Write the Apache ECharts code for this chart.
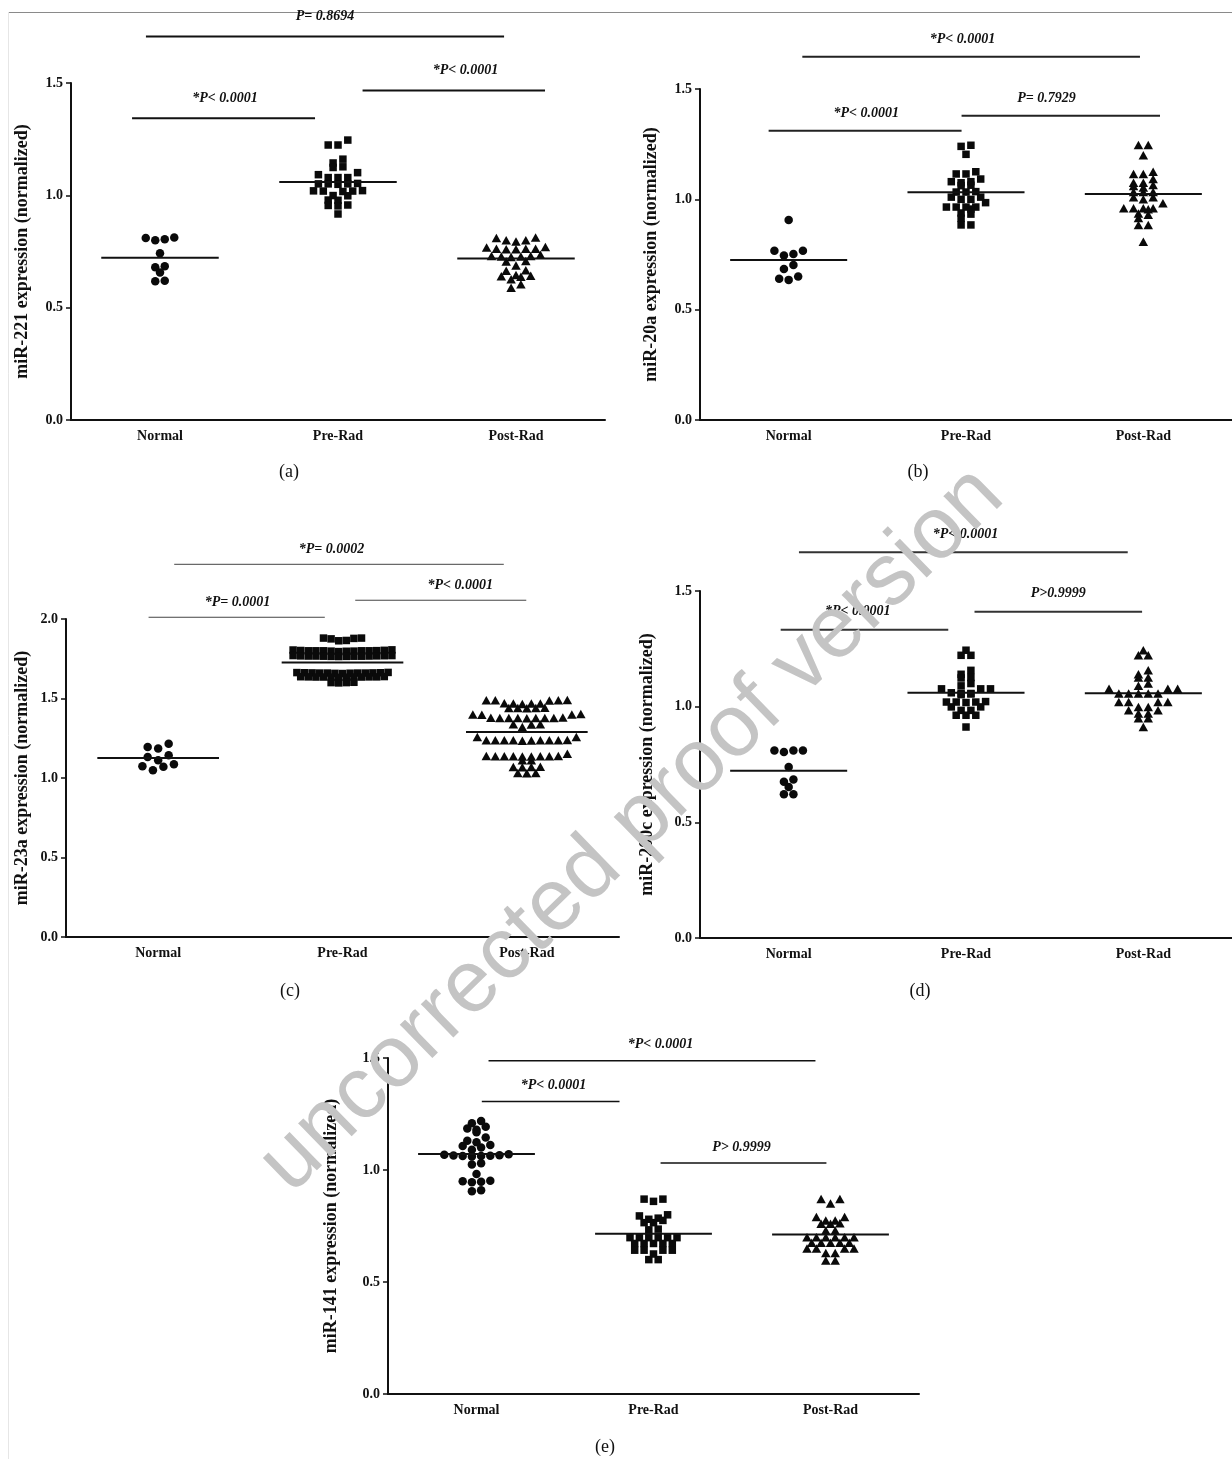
<!DOCTYPE html>
<html><head><meta charset="utf-8">
<script src="https://cdn.jsdelivr.net/npm/echarts@6/dist/echarts.min.js"></script>
<style>html,body{margin:0;padding:0;background:#fff}#c{width:1232px;height:1459px}</style>
</head><body><div id="c"></div>
<script>
// ---------- DATA ----------
const categories = ['Normal', 'Pre-Rad', 'Post-Rad'];
const yAxisMax = [1.5, 1.5, 2.0, 1.5, 1.5];
const yAxisStep = 0.5;
const yAxisNames = [
  'miR-221 expression (normalized)',
  'miR-20a expression (normalized)',
  'miR-23a expression (normalized)',
  'miR-200c expression (normalized)',
  'miR-141 expression (normalized)'
];
const panelTags = ['(a)', '(b)', '(c)', '(d)', '(e)'];

// (a) miR-221
const a_normal = [0.81, 0.805, 0.80, 0.812, 0.742, 0.684, 0.68, 0.656, 0.62, 0.618];
const a_pre = [1.246, 1.224, 1.224, 1.161, 1.144, 1.127, 1.124, 1.101, 1.092, 1.079, 1.079, 1.079,
  1.051, 1.053, 1.051, 1.049, 1.051, 1.019, 1.021, 1.019, 1.017, 1.02, 0.999, 0.998, 0.979, 0.978,
  0.957, 0.953, 0.955, 0.917];
const a_post = [0.81, 0.812, 0.80, 0.80, 0.795, 0.77, 0.768, 0.762, 0.762, 0.76, 0.76, 0.762,
  0.73, 0.728, 0.73, 0.725, 0.728, 0.735, 0.706, 0.708, 0.688, 0.664, 0.666, 0.64, 0.642, 0.645,
  0.638, 0.626, 0.604, 0.589];
// (b) miR-20a
const b_normal = [0.906, 0.767, 0.767, 0.752, 0.745, 0.702, 0.684, 0.65, 0.64, 0.635];
const b_pre = [1.245, 1.24, 1.204, 1.125, 1.115, 1.115, 1.092, 1.08, 1.08, 1.075, 1.064, 1.062,
  1.033, 1.033, 1.035, 1.01, 1.01, 1.0, 1.0, 0.985, 0.965, 0.965, 0.965, 0.965, 0.956, 0.938,
  0.933, 0.914, 0.884, 0.884];
const b_post = [1.246, 1.246, 1.2, 1.125, 1.115, 1.115, 1.092, 1.075, 1.075, 1.06, 1.065, 1.054,
  1.033, 1.033, 1.033, 1.01, 1.0, 1.01, 0.982, 0.96, 0.96, 0.955, 0.96, 0.96, 0.936, 0.93, 0.915,
  0.884, 0.884, 0.808];
// (c) miR-23a
const c_normal = [1.216, 1.195, 1.185, 1.143, 1.132, 1.111, 1.086, 1.074, 1.071, 1.049];
const c_pre = [1.88, 1.878, 1.875, 1.88, 1.865, 1.863,
  1.80, 1.802, 1.798, 1.805, 1.80, 1.795, 1.80, 1.803, 1.797, 1.80, 1.806, 1.80, 1.798, 1.801,
  1.767, 1.77, 1.765, 1.768, 1.766, 1.77, 1.764, 1.767, 1.769, 1.766, 1.765, 1.768, 1.767, 1.766,
  1.66, 1.662, 1.658, 1.661, 1.66, 1.663, 1.657, 1.66, 1.662, 1.659, 1.661, 1.66, 1.664,
  1.635, 1.636, 1.634, 1.637, 1.635, 1.633, 1.636, 1.635, 1.634, 1.638, 1.635, 1.636,
  1.60, 1.60, 1.598, 1.602];
const c_post = [1.489, 1.489, 1.49, 1.488, 1.489, 1.468, 1.47, 1.466, 1.468, 1.468,
  1.44, 1.44, 1.442, 1.438, 1.44, 1.40, 1.40, 1.402, 1.398,
  1.378, 1.378, 1.38, 1.376, 1.378, 1.379, 1.377, 1.378, 1.378,
  1.338, 1.338, 1.336, 1.32, 1.258, 1.258,
  1.237, 1.237, 1.238, 1.236, 1.237, 1.237, 1.239, 1.235, 1.237, 1.237,
  1.153, 1.137, 1.137, 1.138, 1.136, 1.137, 1.137, 1.139, 1.135, 1.137,
  1.111, 1.111, 1.069, 1.069, 1.07, 1.068, 1.031, 1.031, 1.03];
// (d) miR-200c
const d_normal = [0.811, 0.811, 0.804, 0.811, 0.739, 0.685, 0.675, 0.653, 0.621, 0.621];
const d_pre = [1.244, 1.222, 1.222, 1.157, 1.14, 1.126, 1.124, 1.10, 1.09, 1.077, 1.077, 1.077,
  1.057, 1.057, 1.06, 1.055, 1.052, 1.02, 1.02, 1.022, 1.018, 1.02, 0.999, 0.999, 0.984, 0.984,
  0.963, 0.963, 0.963, 0.912];
const d_post = [1.244, 1.222, 1.222, 1.157, 1.14, 1.126, 1.126, 1.10, 1.09, 1.077, 1.077, 1.077,
  1.057, 1.057, 1.057, 1.057, 1.057, 1.02, 1.02, 1.02, 1.02, 0.999, 0.999, 0.984, 0.984,
  0.97, 0.97, 0.95, 0.95, 0.912];
// (e) miR-141
const e_normal = [1.219, 1.209, 1.193, 1.185, 1.18, 1.169, 1.145, 1.131, 1.124, 1.112, 1.107, 1.10,
  1.09, 1.07, 1.068, 1.066, 1.065, 1.064, 1.063, 1.062, 1.06, 1.03, 1.025, 0.982, 0.952, 0.95,
  0.948, 0.945, 0.91, 0.905];
const e_pre = [0.87, 0.87, 0.86, 0.80, 0.795, 0.785, 0.775, 0.78, 0.765, 0.765, 0.736, 0.733,
  0.698, 0.698, 0.698, 0.698, 0.698, 0.698, 0.672, 0.672, 0.672, 0.672, 0.672,
  0.642, 0.642, 0.642, 0.642, 0.625, 0.60, 0.60];
const e_post = [0.87, 0.87, 0.85, 0.79, 0.79, 0.775, 0.775, 0.76, 0.76, 0.762, 0.73, 0.73,
  0.70, 0.70, 0.70, 0.70, 0.70, 0.70, 0.675, 0.675, 0.675, 0.675, 0.675,
  0.65, 0.65, 0.65, 0.65, 0.63, 0.63, 0.596, 0.596];

// significance brackets: [from x, to x, y, label centre x] in axis units
const a_brackets = [[-0.079, 1.933, 1.707, 0.927], [-0.157, 0.871, 1.343, 0.365], [1.138, 2.163, 1.467, 1.716]];
const a_bracketLabels = ['P= 0.8694', '*P< 0.0001', '*P< 0.0001'];
const b_brackets = [[0.077, 1.981, 1.646, 0.98], [-0.113, 0.975, 1.311, 0.437], [0.975, 2.094, 1.379, 1.454]];
const b_bracketLabels = ['*P< 0.0001', '*P< 0.0001', 'P= 0.7929'];
const c_brackets = [[0.087, 1.875, 2.344, 0.94], [-0.052, 0.904, 2.011, 0.43], [1.069, 1.997, 2.118, 1.639]];
const c_bracketLabels = ['*P= 0.0002', '*P= 0.0001', '*P< 0.0001'];
const d_brackets = [[0.058, 1.912, 1.668, 0.997], [-0.045, 0.90, 1.332, 0.389], [1.048, 1.993, 1.41, 1.52]];
const d_bracketLabels = ['*P< 0.0001', '*P< 0.0001', 'P>0.9999'];
const e_brackets = [[0.068, 1.915, 1.488, 1.04], [0.03, 0.808, 1.306, 0.435], [1.04, 1.977, 1.031, 1.497]];
const e_bracketLabels = ['*P< 0.0001', '*P< 0.0001', 'P> 0.9999'];

const watermarkText = 'uncorrected proof version';

// ---------- LAYOUT / STYLE ----------
const panels = [
  {groups: [a_normal, a_pre, a_post], br: a_brackets, brl: a_bracketLabels,
   grid: {left: 71, top: 83, width: 534, height: 337}, nameGap: 40, brW: 2, brC: '#111', labOff: 20,
   tag: [289, 472], sp: [9.5, 9.8, 9.8], rowH: [5, 5, 5]},
  {groups: [b_normal, b_pre, b_post], br: b_brackets, brl: b_bracketLabels,
   grid: {left: 700, top: 89, width: 532, height: 331}, nameGap: 40, brW: 2, brC: '#222', labOff: 17,
   tag: [918, 472], sp: [9.5, 9.8, 9.8], rowH: [5, 5, 5]},
  {groups: [c_normal, c_pre, c_post], br: c_brackets, brl: c_bracketLabels,
   grid: {left: 66, top: 619, width: 553, height: 318}, nameGap: 35, brW: 1, brC: '#444', labOff: 15,
   tag: [290, 991], sp: [10.5, 7.6, 9], rowH: [6, 3, 5]},
  {groups: [d_normal, d_pre, d_post], br: d_brackets, brl: d_bracketLabels,
   grid: {left: 700, top: 591, width: 532, height: 347}, nameGap: 44, brW: 2, brC: '#333', labOff: 18,
   tag: [920, 991], sp: [9.5, 9.8, 9.8], rowH: [5, 5, 5]},
  {groups: [e_normal, e_pre, e_post], br: e_brackets, brl: e_bracketLabels,
   grid: {left: 388, top: 1058, width: 531, height: 336}, nameGap: 48, brW: 1.6, brC: '#111', labOff: 16,
   tag: [605, 1447], sp: [9.2, 9.4, 9.4], rowH: [5, 5, 5]}
];
const symbols = ['circle', 'rect', 'triangle'];
const symSizes = [8.5, 7.5, [9.5, 8.5]];
const serif = '"Liberation Serif", "Times New Roman", serif';

// row-based dot-plot layout (like Prism): bins close values into rows, spreads each row horizontally
function swarm(values, center, pxX, pxY, rowH, spacing) {
  const sorted = values.slice().sort((p, q) => q - p);
  const rows = [];
  let cur = null;
  for (const v of sorted) {
    if (cur && (cur[0] - v) * pxY < rowH) cur.push(v);
    else { cur = [v]; rows.push(cur); }
  }
  const pts = [];
  rows.forEach(r => {
    const n = r.length;
    const slots = [];
    for (let k = 0; k < n; k++) slots.push(k - (n - 1) / 2);
    slots.sort((p, q) => Math.abs(p) - Math.abs(q) || p - q);
    const asc = r.slice().sort((p, q) => p - q);
    asc.forEach((v, k) => pts.push([center + slots[k] * spacing / pxX, v]));
  });
  return pts;
}
const mean = arr => arr.reduce((s, v) => s + v, 0) / arr.length;

const grids = [], xAxes = [], yAxes = [], series = [];
const axisFont = {fontFamily: serif, fontWeight: 'bold', fontSize: 14, color: '#111'};

panels.forEach((p, i) => {
  grids.push(Object.assign({containLabel: false}, p.grid));
  xAxes.push({
    type: 'category', gridIndex: i, data: categories, boundaryGap: true, position: 'bottom',
    axisLine: {onZero: false, lineStyle: {color: '#111', width: 2}},
    axisTick: {alignWithLabel: true, length: 5, lineStyle: {color: '#111', width: 1.5}},
    axisLabel: Object.assign({margin: 9}, axisFont), splitLine: {show: false}
  });
  xAxes.push({type: 'value', gridIndex: i, min: -0.5, max: 2.5, show: false, splitLine: {show: false},
    axisLine: {onZero: false}});
  yAxes.push({
    type: 'value', gridIndex: i, min: 0, max: yAxisMax[i], interval: yAxisStep, position: 'left',
    name: yAxisNames[i], nameLocation: 'middle', nameGap: p.nameGap,
    nameTextStyle: {fontFamily: serif, fontWeight: 'bold', fontSize: 18, color: '#111'},
    axisLine: {show: true, onZero: false, lineStyle: {color: '#111', width: 2}},
    axisTick: {show: true, length: 5, lineStyle: {color: '#111', width: 1.5}},
    axisLabel: Object.assign({margin: 8, formatter: v => v.toFixed(1)}, axisFont),
    splitLine: {show: false}
  });
  const pxX = p.grid.width / 3, pxY = p.grid.height / yAxisMax[i];
  p.groups.forEach((vals, g) => {
    series.push({
      type: 'scatter', xAxisIndex: 2 * i + 1, yAxisIndex: i,
      symbol: symbols[g], symbolSize: symSizes[g],
      itemStyle: {color: '#0a0a0a', opacity: 1},
      data: swarm(vals, g, pxX, pxY, p.rowH[g], p.sp[g]),
      z: 3, animation: false, silent: true
    });
  });
  series.push({
    type: 'custom', xAxisIndex: 2 * i + 1, yAxisIndex: i, animation: false, silent: true, z: 4,
    data: p.groups.map((vals, g) => [g, mean(vals)]),
    renderItem: (params, api) => {
      const x = api.value(0), y = api.value(1);
      const p1 = api.coord([x - 0.33, y]), p2 = api.coord([x + 0.33, y]);
      return {type: 'line', shape: {x1: p1[0], y1: p1[1], x2: p2[0], y2: p2[1]},
        style: {stroke: '#111', lineWidth: 2}};
    }
  });
  series.push({
    type: 'custom', xAxisIndex: 2 * i + 1, yAxisIndex: i, animation: false, silent: true, z: 4, clip: false,
    data: p.br,
    renderItem: (params, api) => {
      const x1 = api.value(0), x2 = api.value(1), y = api.value(2), lx = api.value(3);
      const p1 = api.coord([x1, y]), p2 = api.coord([x2, y]), pl = api.coord([lx, y]);
      return {type: 'group', children: [
        {type: 'line', shape: {x1: p1[0], y1: p1[1], x2: p2[0], y2: p2[1]},
          style: {stroke: p.brC, lineWidth: p.brW}},
        {type: 'text', style: {text: p.brl[params.dataIndex], x: pl[0], y: pl[1] - p.labOff,
          align: 'center', verticalAlign: 'middle',
          font: 'italic bold 14px ' + serif, fill: '#111'}}
      ]};
    }
  });
});

const graphics = [
  {type: 'line', shape: {x1: 8, y1: 12.5, x2: 1232, y2: 12.5}, style: {stroke: '#8a8a8a', lineWidth: 1}, z: 1},
  {type: 'line', shape: {x1: 8.5, y1: 12, x2: 8.5, y2: 1459}, style: {stroke: '#e6e6e6', lineWidth: 1}, z: 1}
];
panels.forEach((p, i) => {
  graphics.push({type: 'text', x: p.tag[0], y: p.tag[1], z: 5,
    style: {text: panelTags[i], align: 'center', verticalAlign: 'middle',
      font: '18px ' + serif, fill: '#111'}});
});
graphics.push({type: 'text', x: 632, y: 830, rotation: 44.2 * Math.PI / 180, z: 100,
  style: {text: watermarkText, align: 'center', verticalAlign: 'middle',
    font: '88px "Liberation Sans", Arial, sans-serif', fill: '#c4c4c4'}});

const chart = echarts.init(document.getElementById('c'), null, {renderer: 'canvas'});
chart.setOption({
  animation: false, backgroundColor: '#fff',
  grid: grids, xAxis: xAxes, yAxis: yAxes, series: series,
  graphic: {elements: graphics}
});
</script></body></html>
